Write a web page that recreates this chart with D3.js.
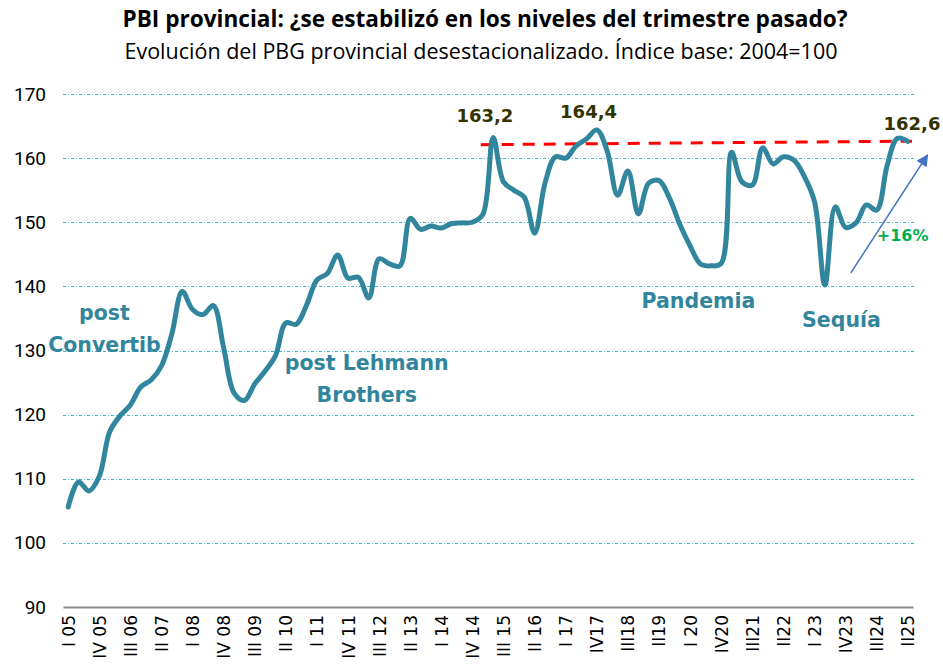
<!DOCTYPE html>
<html>
<head>
<meta charset="utf-8">
<script src="https://cdn.jsdelivr.net/npm/d3@7"></script>
<style>
    body { margin: 0; background: #fff; }
    svg { display: block; }
</style>
</head>
<body>
<div id="chart"></div>
<script>

/* Data -------------------------------------------------------------------- */

const years = d3.range(2005, 2026);
const romans = ["I", "II", "III", "IV"];

// Quarter keys, I 05 .. II 25
const quarters = [];
years.forEach(y => romans.forEach(r => {
    if (y < 2025 || r === "I" || r === "II") quarters.push(`${r} ${String(y).slice(2)}`);
}));

const pbgValues = [
    105.6, 109.5, 108.1, 110.4, 117.3, 119.8, 121.5, 124.3, 125.4, 127.6,
    132.6, 139.2, 136.4, 135.6, 137.0, 130.4, 123.4, 122.2, 124.8, 126.8,
    129.2, 134.3, 134.1, 137.1, 141.0, 142.0, 144.9, 141.3, 141.4, 138.2,
    144.3, 143.5, 143.2, 150.6, 148.9, 149.4, 149.1, 149.8, 149.9, 150.0,
    151.2, 163.2, 156.3, 155.0, 153.9, 148.3, 156.1, 160.2, 160.0, 161.9,
    163.0, 164.4, 161.1, 154.2, 158.0, 151.3, 156.1, 156.5, 153.8, 149.7,
    146.3, 143.5, 143.2, 143.6, 160.9, 156.3, 155.8, 161.6, 159.1, 160.2,
    159.7, 157.2, 153.2, 140.2, 152.4, 149.2, 149.9, 152.7, 151.9, 158.8,
    163.1, 162.6
];

const tickLabels = [
    "I 05", "IV 05", "III 06", "II 07", "I 08", "IV 08", "III 09", "II 10",
    "I 11", "IV 11", "III 12", "II 13", "I 14", "IV 14", "III 15", "II 16",
    "I 17", "IV17", "III18", "II19", "I 20", "IV20", "III21", "II22",
    "I 23", "IV23", "III24", "II25"
];

const yTicks = [90, 100, 110, 120, 130, 140, 150, 160, 170];

// Highlighted values: [label, index position, value of baseline]
const peakLabels = [["163,2", 40.2, 165.6], ["164,4", 50.2, 166.3], ["162,6", 81.4, 164.4]];

// Reference (dashed) line ends: [index position, value]
const refLine = [[39.8, 162.1], [81.4, 162.65]];

// Growth arrow ends: [index position, value]
const growthArrow = [[75.5, 142.1], [82.9, 160.5]];

// Event annotations: [lines, index position, value of first baseline]
const events = [
    [["post", "Convertib"], 3.5, 134.8],
    [["post Lehmann", "Brothers"], 28.8, 127.0],
    [["Pandemia"], 60.8, 136.6],
    [["Sequía"], 74.6, 133.7]
];

/* Colours ----------------------------------------------------------------- */

const colors = {
    line: "#31859C",
    grid: "#4BACC6",
    axis: "#8C8C8C",
    text: "#000000",
    peak: "#333300",
    ref: "#FF0000",
    arrow: "#4472C4",
    growth: "#00B050"
};

/* Draw graphic ------------------------------------------------------------ */

function drawGraphic() {

    const width = 943, height = 668;
    const margin = {top: 94, right: 30, bottom: 61, left: 63};

    const vis = d3.select("#chart")
        .append("svg")
        .attr("width", width)
        .attr("height", height);

    vis.append("rect")
        .attr("width", width)
        .attr("height", height)
        .attr("fill", "#fff");

    // Title
    vis.append("text")
        .text("PBI provincial: ¿se estabilizó en los niveles del trimestre pasado?")
        .attr("x", 485)
        .attr("y", 27)
        .attr("text-anchor", "middle")
        .style("font-family", "'Open Sans', sans-serif")
        .style("font-weight", "bold")
        .style("font-size", "22.6px")
        .style("fill", colors.text);

    // Subtitle
    vis.append("text")
        .text("Evolución del PBG provincial desestacionalizado. Índice base: 2004=100")
        .attr("x", 481)
        .attr("y", 59)
        .attr("text-anchor", "middle")
        .style("font-family", "'Open Sans', sans-serif")
        .style("font-size", "21.5px")
        .style("fill", colors.text);

    // Scales
    const xScale = d3.scalePoint()
        .domain(quarters)
        .range([margin.left, width - margin.right])
        .padding(0.5);

    const step = xScale.step();
    const xPos = i => xScale(quarters[0]) + i * step;

    const yScale = d3.scaleLinear()
        .domain([90, 170])
        .range([height - margin.bottom, margin.top]);

    // Gridlines
    vis.append("g")
        .attr("class", "grid")
        .selectAll("line")
        .data(yTicks.filter(d => d > 90))
        .join("line")
        .attr("x1", margin.left)
        .attr("x2", width - margin.right + 2)
        .attr("y1", d => Math.round(yScale(d)) + 0.5)
        .attr("y2", d => Math.round(yScale(d)) + 0.5)
        .attr("stroke", colors.grid)
        .attr("stroke-width", 1)
        .attr("stroke-dasharray", "3,2,1,2");

    // Y-axis
    const yAxis = vis.append("g")
        .attr("class", "axis yaxis")
        .attr("transform", `translate(${margin.left},0)`)
        .call(d3.axisLeft(yScale).tickValues(yTicks).tickSize(0).tickPadding(17));

    yAxis.select(".domain").remove();
    yAxis.selectAll("text")
        .style("font-family", "'Roboto', sans-serif")
        .style("font-size", "19px")
        .style("fill", colors.text);

    // X-axis
    const xAxis = vis.append("g")
        .attr("class", "axis xaxis")
        .attr("transform", `translate(0,${yScale(90)})`)
        .call(d3.axisBottom(xScale)
            .tickValues(quarters.filter((q, i) => i % 3 === 0))
            .tickFormat((q, i) => tickLabels[i])
            .tickSize(0)
            .tickSizeOuter(0));

    xAxis.select(".domain")
        .attr("stroke", colors.axis)
        .attr("stroke-width", 2);

    xAxis.selectAll("text")
        .attr("transform", "rotate(-90)")
        .attr("x", -8)
        .attr("y", 0)
        .attr("dy", "0.35em")
        .attr("text-anchor", "end")
        .style("font-family", "'DejaVu Sans', sans-serif")
        .style("font-size", "17px")
        .style("fill", colors.text);

    // Reference line
    vis.append("line")
        .attr("x1", xPos(refLine[0][0]))
        .attr("y1", yScale(refLine[0][1]))
        .attr("x2", xPos(refLine[1][0]))
        .attr("y2", yScale(refLine[1][1]))
        .attr("stroke", colors.ref)
        .attr("stroke-width", 3)
        .attr("stroke-dasharray", "12,9");

    // Series line
    const line = d3.line()
        .x((d, i) => xScale(quarters[i]))
        .y(d => yScale(d))
        .curve(d3.curveCatmullRom.alpha(0.5));

    vis.append("path")
        .datum(pbgValues)
        .attr("d", line)
        .attr("fill", "none")
        .attr("stroke", colors.line)
        .attr("stroke-width", 5)
        .attr("stroke-linejoin", "round")
        .attr("stroke-linecap", "round");

    // Growth arrow
    vis.append("defs")
        .append("marker")
        .attr("id", "arrowhead")
        .attr("viewBox", "0 0 10 10")
        .attr("refX", 9)
        .attr("refY", 5)
        .attr("markerWidth", 9)
        .attr("markerHeight", 8)
        .attr("orient", "auto")
        .append("path")
        .attr("d", "M0,0 L10,5 L0,10 Z")
        .attr("fill", colors.arrow);

    vis.append("line")
        .attr("x1", xPos(growthArrow[0][0]))
        .attr("y1", yScale(growthArrow[0][1]))
        .attr("x2", xPos(growthArrow[1][0]))
        .attr("y2", yScale(growthArrow[1][1]))
        .attr("stroke", colors.arrow)
        .attr("stroke-width", 1.5)
        .attr("marker-end", "url(#arrowhead)");

    vis.append("text")
        .text("+16%")
        .attr("x", xPos(80.5))
        .attr("y", yScale(147.1))
        .attr("text-anchor", "middle")
        .style("font-family", "'DejaVu Sans', sans-serif")
        .style("font-weight", "bold")
        .style("font-size", "16px")
        .style("fill", colors.growth);

    // Peak labels
    vis.selectAll(".peak-label")
        .data(peakLabels)
        .join("text")
        .attr("class", "peak-label")
        .text(d => d[0])
        .attr("x", d => xPos(d[1]))
        .attr("y", d => yScale(d[2]))
        .attr("text-anchor", "middle")
        .style("font-family", "'DejaVu Sans', sans-serif")
        .style("font-weight", "bold")
        .style("font-size", "18px")
        .style("fill", colors.peak);

    // Event annotations
    events.forEach(([lines, pos, value]) => {
        const t = vis.append("text")
            .attr("x", xPos(pos))
            .attr("y", yScale(value))
            .attr("text-anchor", "middle")
            .style("font-family", "'DejaVu Sans', sans-serif")
            .style("font-weight", "bold")
            .style("font-size", "20.5px")
            .style("fill", colors.line);
        lines.forEach((l, i) => {
            t.append("tspan")
                .attr("x", xPos(pos))
                .attr("dy", i === 0 ? 0 : 32)
                .text(l);
        });
    });
}

drawGraphic();
</script>
</body>
</html>
